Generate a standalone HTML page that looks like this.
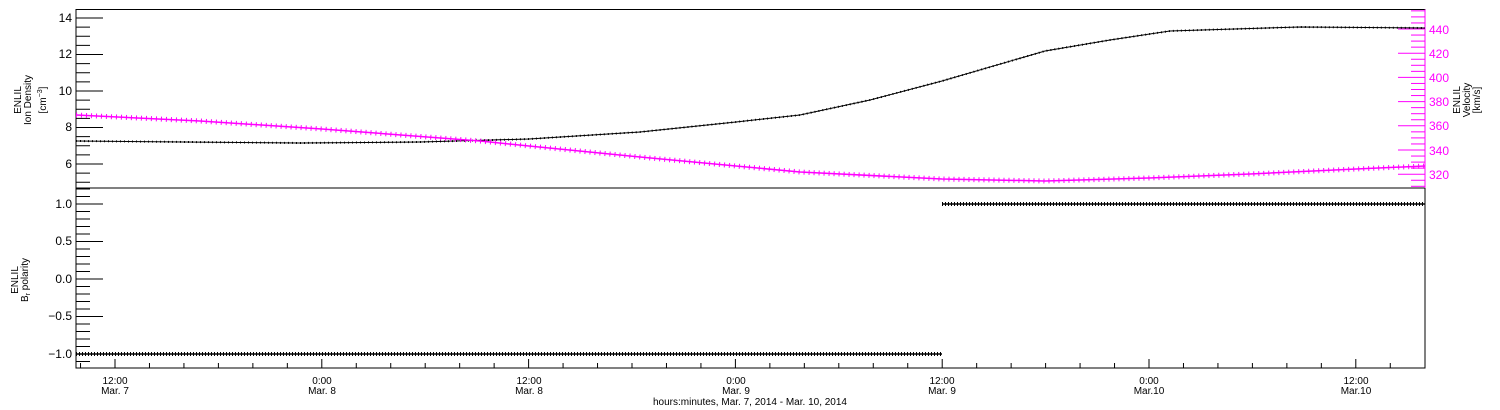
<!DOCTYPE html>
<html><head><meta charset="utf-8"><style>
html,body{margin:0;padding:0;background:#fff}
svg{display:block;font-family:"Liberation Sans",sans-serif}
</style></head><body>
<svg width="1500" height="410" viewBox="0 0 1500 410" xmlns="http://www.w3.org/2000/svg">
<rect width="1500" height="410" fill="#fff"/>
<rect x="76" y="9.5" width="1349" height="178.5" fill="none" stroke="#000" stroke-width="1"/>
<rect x="76" y="188" width="1349" height="180" fill="none" stroke="#000" stroke-width="1"/>
<g id="ticks"></g>
<polyline fill="none" stroke="#000" stroke-width="1" points="76,141 300,143 420,142 529,139 640,132 736,122 800,115 870,100 942,81 1045,51 1110,40 1170,31 1300,27 1425,28"/>
<polyline fill="none" stroke="#000" stroke-width="2" stroke-dasharray="1,3" points="76,141 300,143 420,142 529,139 640,132 736,122 800,115 870,100 942,81 1045,51 1110,40 1170,31 1300,27 1425,28"/>
<polyline fill="none" stroke="#f0f" stroke-width="1.5" points="76,115 200,121 322,129 480,141 529,146 640,157 736,166 800,172 942,179 1045,181 1149,178 1250,174 1356,169 1425,166"/>
<polyline fill="none" stroke="#f0f" stroke-width="5" stroke-dasharray="1,4" points="76,115 200,121 322,129 480,141 529,146 640,157 736,166 800,172 942,179 1045,181 1149,178 1250,174 1356,169 1425,166"/>
<line x1="76" y1="354" x2="942" y2="354" stroke="#000" stroke-width="1.5"/>
<line x1="76" y1="354" x2="942" y2="354" stroke="#000" stroke-width="4" stroke-dasharray="1,2"/>
<line x1="942" y1="204" x2="1425" y2="204" stroke="#000" stroke-width="1.5"/>
<line x1="942" y1="204" x2="1425" y2="204" stroke="#000" stroke-width="4" stroke-dasharray="1,2"/>
<g font-size="12" fill="#000" text-anchor="end">
<text x="72" y="22">14</text><text x="72" y="58">12</text><text x="72" y="95">10</text><text x="72" y="131">8</text><text x="72" y="168">6</text>
<text x="72" y="208">1.0</text><text x="72" y="245">0.5</text><text x="72" y="283">0.0</text><text x="72" y="320">−0.5</text><text x="72" y="358">−1.0</text>
</g>
<g font-size="12" fill="#f0f">
<text x="1429" y="34">440</text><text x="1429" y="58">420</text><text x="1429" y="82">400</text><text x="1429" y="106">380</text><text x="1429" y="130">360</text><text x="1429" y="155">340</text><text x="1429" y="179">320</text>
</g>
<g font-size="10" fill="#000" text-anchor="middle">
<text transform="translate(21,100) rotate(-90)">ENLIL</text>
<text transform="translate(31,100) rotate(-90)">Ion Density</text>
<text transform="translate(46,100) rotate(-90)">[cm<tspan font-size="7" dy="-4">−3</tspan><tspan dy="4">]</tspan></text>
<text transform="translate(18,280) rotate(-90)">ENLIL</text>
<text transform="translate(28,280) rotate(-90)">B<tspan font-size="7" dy="2">r</tspan><tspan dy="-2"> polarity</tspan></text>
<text transform="translate(1460,100) rotate(-90)">ENLIL</text>
<text transform="translate(1470,100) rotate(-90)">Velocity</text>
<text transform="translate(1480,100) rotate(-90)">[km/s]</text>
</g>
<g font-size="10" fill="#000" text-anchor="middle">
<text x="115" y="384">12:00</text><text x="115" y="394">Mar. 7</text>
<text x="322" y="384">0:00</text><text x="322" y="394">Mar. 8</text>
<text x="529" y="384">12:00</text><text x="529" y="394">Mar. 8</text>
<text x="736" y="384">0:00</text><text x="736" y="394">Mar. 9</text>
<text x="942" y="384">12:00</text><text x="942" y="394">Mar. 9</text>
<text x="1149" y="384">0:00</text><text x="1149" y="394">Mar.10</text>
<text x="1356" y="384">12:00</text><text x="1356" y="394">Mar.10</text>
<text x="750" y="405">hours:minutes, Mar. 7, 2014 - Mar. 10, 2014</text>
</g>
<script>
var ns="http://www.w3.org/2000/svg",g=document.getElementById("ticks");
function L(x1,y1,x2,y2,c){var l=document.createElementNS(ns,"line");l.setAttribute("x1",x1);l.setAttribute("y1",y1);l.setAttribute("x2",x2);l.setAttribute("y2",y2);l.setAttribute("stroke",c||"#000");l.setAttribute("stroke-width","1");g.appendChild(l);}
for(var v=4.5;v<=14.5;v+=0.5){var y=18+(14-v)*18.25;if(y<10||y>188)continue;var maj=Math.abs(v-Math.round(v/2)*2)<0.01;L(76,y,76+(maj?27:14),y);}
for(var v=305;v<=455;v+=5){var y=29+(440-v)*1.21;if(y<10||y>188)continue;var maj=v%20==0;L(1425,y,1425-(maj?27:14),y,"#f0f");}
L(1425,9.5,1425,188,"#f0f");
for(var i=-12;i<=12;i++){var v=i/10,y=279-v*75;if(y<189||y>368)continue;var maj=i%5==0;L(76,y,76+(maj?27:14),y);}
var px=206.8/12;for(var h=-12;h<=90;h+=2){var x=115+h*px;if(x<77||x>1424)continue;var maj=((h%12)+12)%12==0;L(x,368,x,368-(maj?9:5));}
</script>
</svg>
</body></html>
